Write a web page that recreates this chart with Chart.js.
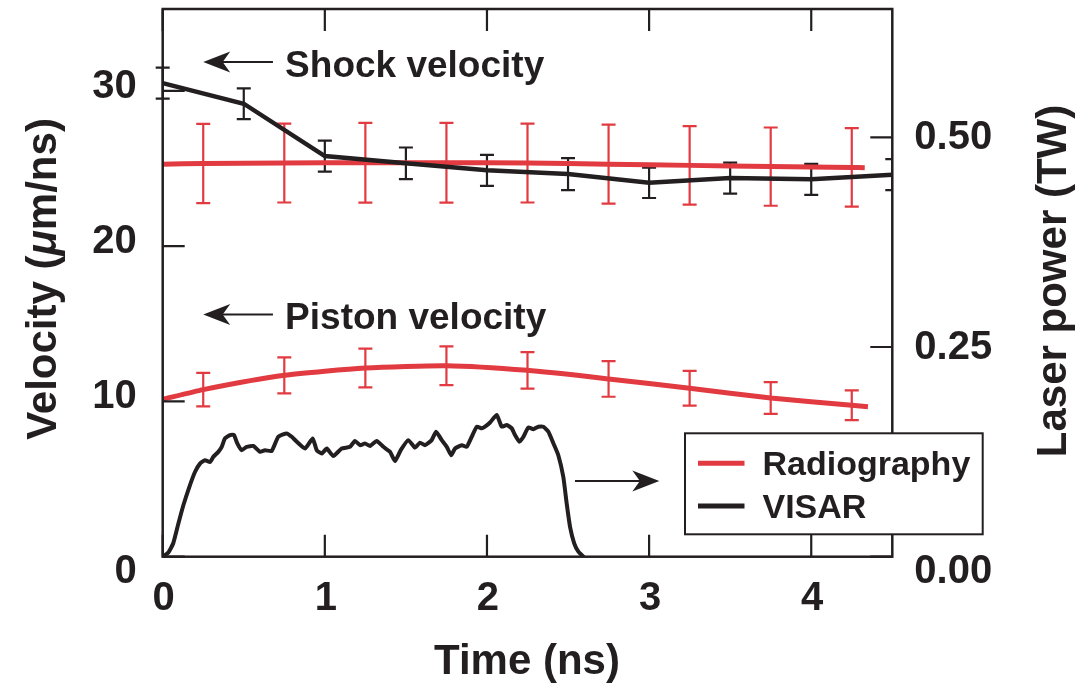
<!DOCTYPE html>
<html>
<head>
<meta charset="utf-8">
<script src="https://cdn.jsdelivr.net/npm/chart.js@4.4.1/dist/chart.umd.min.js"></script>
<style>
  html, body { margin: 0; padding: 0; background: #fff; }
  #wrap { width: 1083px; height: 689px; }
</style>
</head>
<body>
<div id="wrap"><canvas id="chart" width="1083" height="689"></canvas></div>
<script>
/* ---------- Data ---------- */

const xTicks = [0, 1, 2, 3, 4];
const velocityTicks = [0, 10, 20, 30];
const powerTicks = [0, 0.25, 0.5];
const powerTickLabels = ['0.00', '0.25', '0.50'];

// Radiography (red): shock and piston velocity, error bars every 0.5 ns
const radTime      = [0, 0.25, 0.75, 1.25, 1.75, 2.25, 2.75, 3.25, 3.75, 4.25, 4.33];
const radShockVel  = [25.27, 25.32, 25.35, 25.37, 25.37, 25.35, 25.28, 25.2, 25.12, 25.07, 25.05];
const radShockErr  = [null, 2.55, 2.54, 2.57, 2.57, 2.54, 2.54, 2.53, 2.52, 2.53, null];
const pistonTime   = [0, 0.25, 0.75, 1.25, 1.75, 2.25, 2.75, 3.25, 3.75, 4.25, 4.35];
const pistonVel    = [10.13, 10.76, 11.68, 12.15, 12.3, 12.0, 11.45, 10.85, 10.22, 9.75, 9.66];
const pistonErr    = [null, 1.08, 1.16, 1.25, 1.25, 1.18, 1.15, 1.12, 1.02, 0.96, null];

// VISAR (black) shock velocity
const visarTime = [0, 0.5, 1.0, 1.5, 2.0, 2.5, 3.0, 3.5, 4.0, 4.5];
const visarVel  = [30.5, 29.17, 25.8, 25.33, 24.88, 24.64, 24.08, 24.38, 24.3, 24.6];
const visarErr  = [1.0, 0.99, 1.0, 1.02, 1.0, 1.03, 0.98, 1.0, 1.0, 1.0];

// Laser power pulse (right axis, TW)
const laserTime = [
    0.000, 0.035, 0.065, 0.096, 0.127, 0.164, 0.199, 0.230, 0.261, 0.292,
    0.312, 0.343, 0.364, 0.384, 0.415, 0.440, 0.460, 0.487, 0.518, 0.559,
    0.600, 0.631, 0.672, 0.713, 0.765, 0.796, 0.827, 0.878, 0.925, 0.950,
    0.981, 1.012, 1.052, 1.104, 1.155, 1.186, 1.217, 1.248, 1.279, 1.320,
    1.361, 1.402, 1.433, 1.468, 1.515, 1.556, 1.587, 1.618, 1.659, 1.686,
    1.721, 1.752, 1.779, 1.803, 1.845, 1.875, 1.906, 1.937, 1.968, 1.988,
    2.019, 2.060, 2.091, 2.122, 2.153, 2.173, 2.200, 2.225, 2.255, 2.286,
    2.317, 2.348, 2.379, 2.410, 2.440, 2.471, 2.492, 2.513, 2.538, 2.564,
    2.595
];
const laserPower = [
    0.000, 0.005, 0.016, 0.039, 0.061, 0.083, 0.101, 0.111, 0.115, 0.113,
    0.119, 0.125, 0.131, 0.141, 0.145, 0.145, 0.135, 0.127, 0.131, 0.132,
    0.125, 0.127, 0.126, 0.143, 0.147, 0.143, 0.137, 0.129, 0.141, 0.127,
    0.123, 0.129, 0.120, 0.129, 0.131, 0.138, 0.133, 0.135, 0.132, 0.138,
    0.131, 0.125, 0.114, 0.127, 0.139, 0.130, 0.136, 0.133, 0.139, 0.149,
    0.139, 0.131, 0.121, 0.129, 0.133, 0.131, 0.143, 0.155, 0.153, 0.155,
    0.160, 0.169, 0.155, 0.157, 0.153, 0.145, 0.137, 0.143, 0.154, 0.152,
    0.155, 0.155, 0.149, 0.135, 0.121, 0.095, 0.063, 0.035, 0.016, 0.006,
    0.000
];

/* ---------- Style ---------- */

const RED = '#e13a40';
const INK = '#231f20';
const FONT = "'Liberation Sans', Arial, Helvetica, sans-serif";

const toPoints = (xs, ys) => xs.map((x, i) => ({ x, y: ys[i] }));

/* ---------- Plugins ---------- */

// vertical error bars with caps, drawn under the lines
const errorBars = {
    id: 'errorBars',
    beforeDatasetsDraw(chart) {
        const { ctx, chartArea: a } = chart;
        const xs = chart.scales.x;
        chart.data.datasets.forEach(ds => {
            if (!ds.errors) return;
            const ys = chart.scales[ds.yAxisID];
            ctx.save();
            // the last VISAR bar sits on the right frame: cut it there
            ctx.beginPath();
            ctx.rect(a.left - 12, a.top, a.right - a.left + 12, a.bottom - a.top);
            ctx.clip();
            ctx.strokeStyle = ds.borderColor;
            ctx.lineWidth = 2.2;
            ds.data.forEach((p, i) => {
                const e = ds.errors[i];
                if (e == null) return;
                const x = xs.getPixelForValue(p.x);
                const top = ys.getPixelForValue(p.y + e);
                const bot = ys.getPixelForValue(p.y - e);
                ctx.beginPath();
                ctx.moveTo(x, top); ctx.lineTo(x, bot);
                ctx.moveTo(x - 7, top); ctx.lineTo(x + 7, top);
                ctx.moveTo(x - 7, bot); ctx.lineTo(x + 7, bot);
                ctx.stroke();
            });
            ctx.restore();
        });
    },
};

function arrow(ctx, x1, y, x2) {
    // shaft from x1 to the tip at x2, notched filled head
    const dir = Math.sign(x2 - x1);
    const len = 27, half = 10.5;
    ctx.beginPath();
    ctx.moveTo(x1, y);
    ctx.lineTo(x2 - dir * len * 0.6, y);
    ctx.stroke();
    ctx.beginPath();
    ctx.moveTo(x2, y);
    ctx.lineTo(x2 - dir * len, y - half);
    ctx.lineTo(x2 - dir * len * 0.72, y);
    ctx.lineTo(x2 - dir * len, y + half);
    ctx.closePath();
    ctx.fill();
}

// frame, inward ticks, tick labels, titles, notes and the legend box
const decorations = {
    id: 'decorations',
    afterDraw(chart) {
        const { ctx, chartArea: a } = chart;
        const xs = chart.scales.x, yv = chart.scales.yVel, yp = chart.scales.yPow;
        ctx.save();
        ctx.strokeStyle = INK;
        ctx.fillStyle = INK;

        // frame
        ctx.lineWidth = 2.5;
        ctx.strokeRect(a.left, a.top, a.right - a.left, a.bottom - a.top);

        // inward ticks
        ctx.lineWidth = 2.2;
        const T = 22;
        ctx.beginPath();
        xTicks.forEach(v => {
            const x = xs.getPixelForValue(v);
            ctx.moveTo(x, a.bottom); ctx.lineTo(x, a.bottom - T);
            ctx.moveTo(x, a.top); ctx.lineTo(x, a.top + T);
        });
        velocityTicks.forEach(v => {
            const y = yv.getPixelForValue(v);
            ctx.moveTo(a.left, y); ctx.lineTo(a.left + T, y);
        });
        powerTicks.forEach(v => {
            const y = yp.getPixelForValue(v);
            ctx.moveTo(a.right, y); ctx.lineTo(a.right - T, y);
        });
        ctx.stroke();

        // tick labels
        ctx.font = `bold 40px ${FONT}`;
        ctx.textBaseline = 'alphabetic';
        ctx.textAlign = 'center';
        xTicks.forEach(v => ctx.fillText(String(v), xs.getPixelForValue(v) + 1, 610));
        ctx.textAlign = 'right';
        velocityTicks.forEach(v => {
            const y = yv.getPixelForValue(v);
            ctx.fillText(String(v), a.left - 26, v === 0 ? y + 26.5 : y + 7);
        });
        ctx.textAlign = 'left';
        powerTicks.forEach((v, i) => {
            const y = yp.getPixelForValue(v);
            ctx.fillText(powerTickLabels[i], a.right + 22, v === 0 ? y + 26.5 : y + 12);
        });

        // axis titles
        ctx.font = `bold 42px ${FONT}`;
        ctx.textAlign = 'center';
        ctx.fillText('Time (ns)', 527, 674);

        ctx.save();
        ctx.translate(56, 279);
        ctx.rotate(-Math.PI / 2);
        const parts = [
            ['Velocity (', `bold 42px ${FONT}`],
            ['\u03bc', `italic bold 42px ${FONT}`],
            ['m/ns)', `bold 42px ${FONT}`],
        ];
        let total = 0;
        parts.forEach(([t, f]) => { ctx.font = f; total += ctx.measureText(t).width; });
        let cx = -total / 2;
        ctx.textAlign = 'left';
        parts.forEach(([t, f]) => {
            ctx.font = f;
            ctx.fillText(t, cx, 0);
            cx += ctx.measureText(t).width;
        });
        ctx.restore();

        ctx.save();
        ctx.translate(1066, 281);
        ctx.rotate(-Math.PI / 2);
        ctx.font = `bold 42px ${FONT}`;
        ctx.textAlign = 'center';
        ctx.fillText('Laser power (TW)', 0, 0);
        ctx.restore();

        // notes with arrows
        ctx.lineWidth = 2;
        ctx.font = `bold 37px ${FONT}`;
        ctx.textAlign = 'left';
        arrow(ctx, xs.getPixelForValue(0.68), yv.getPixelForValue(31.85), xs.getPixelForValue(0.25));
        ctx.fillText('Shock velocity', xs.getPixelForValue(0.755), yv.getPixelForValue(30.9));
        arrow(ctx, xs.getPixelForValue(0.68), yv.getPixelForValue(15.6), xs.getPixelForValue(0.25));
        ctx.fillText('Piston velocity', xs.getPixelForValue(0.755), yv.getPixelForValue(14.64));
        arrow(ctx, xs.getPixelForValue(2.543), yv.getPixelForValue(4.87), xs.getPixelForValue(3.063));

        // legend
        const box = { x: 685, y: 433.3, w: 297.7, h: 101 };
        ctx.fillStyle = '#fff';
        ctx.fillRect(box.x, box.y, box.w, box.h);
        ctx.lineWidth = 2;
        ctx.strokeRect(box.x, box.y, box.w, box.h);
        const entries = [
            { label: 'Radiography', color: RED, y: 463.3 },
            { label: 'VISAR', color: INK, y: 506 },
        ];
        ctx.font = `bold 34px ${FONT}`;
        entries.forEach(e => {
            ctx.strokeStyle = e.color;
            ctx.lineWidth = 5;
            ctx.beginPath();
            ctx.moveTo(698, e.y); ctx.lineTo(744.5, e.y);
            ctx.stroke();
            ctx.fillStyle = INK;
            ctx.fillText(e.label, 762.5, e.y + 11.7);
        });
        ctx.restore();
    },
};

/* ---------- Chart ---------- */

new Chart(document.getElementById('chart'), {
    type: 'line',
    data: {
        datasets: [
            {
                label: 'VISAR shock',
                data: toPoints(visarTime, visarVel),
                errors: visarErr,
                yAxisID: 'yVel',
                borderColor: INK,
                borderWidth: 4.5,
                pointRadius: 0,
                tension: 0,
            },
            {
                label: 'Radiography shock',
                data: toPoints(radTime, radShockVel),
                errors: radShockErr,
                yAxisID: 'yVel',
                borderColor: RED,
                borderWidth: 5,
                pointRadius: 0,
                tension: 0.2,
            },
            {
                label: 'Radiography piston',
                data: toPoints(pistonTime, pistonVel),
                errors: pistonErr,
                yAxisID: 'yVel',
                borderColor: RED,
                borderWidth: 5,
                pointRadius: 0,
                tension: 0.2,
            },
            {
                label: 'Laser power',
                data: toPoints(laserTime, laserPower),
                yAxisID: 'yPow',
                borderColor: INK,
                borderWidth: 4,
                pointRadius: 0,
                tension: 0.15,
                borderJoinStyle: 'round',
                borderCapStyle: 'round',
            },
        ],
    },
    options: {
        responsive: false,
        animation: false,
        devicePixelRatio: 1,
        layout: { padding: { left: 162.7, right: 190.7, top: 9, bottom: 132.3 } },
        plugins: {
            legend: { display: false },
            tooltip: { enabled: false },
        },
        scales: {
            x: { type: 'linear', min: 0, max: 4.5, display: false },
            yVel: { type: 'linear', position: 'left', min: 0, max: 35.27, display: false },
            yPow: { type: 'linear', position: 'right', min: 0, max: 0.653, display: false },
        },
    },
    plugins: [errorBars, decorations],
});
</script>
</body>
</html>
